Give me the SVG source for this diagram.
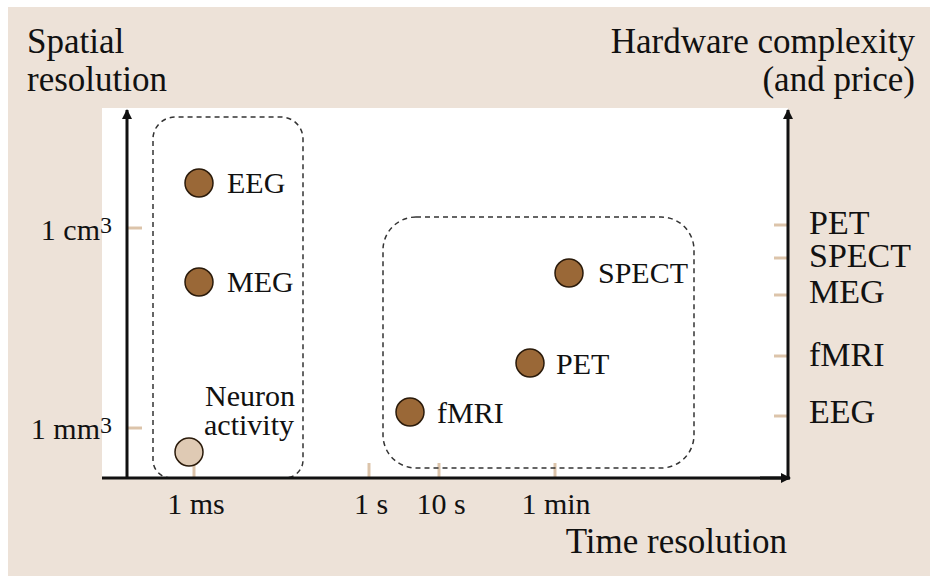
<svg xmlns="http://www.w3.org/2000/svg" width="930" height="576" viewBox="0 0 930 576">
<style>
text{font-family:"Liberation Serif","Times New Roman",serif;fill:#111}
.t{font-size:35px}
.l{font-size:30px}
.r{font-size:34px}
.sup{font-size:24px}
.tick{stroke:#dcc4aa;stroke-width:3}
.box{fill:none;stroke:#333;stroke-width:1.5;stroke-dasharray:5 4}
.dot{fill:#9a6837;stroke:#2a1a0a;stroke-width:1.5}
.dotl{fill:#dfcab4;stroke:#2a1a0a;stroke-width:1.5}
.ax{stroke:#111;stroke-width:3;fill:none}
</style>
<defs>
<marker id="ah" markerWidth="10" markerHeight="10" refX="9" refY="5" orient="auto" markerUnits="userSpaceOnUse" viewBox="0 0 10 10"><path d="M0,0 L10,5 L0,10 z" fill="#111"/></marker>
</defs>
<rect x="0" y="0" width="930" height="576" fill="#ffffff"/>
<rect x="8" y="7" width="922" height="569" fill="#ede2d8"/>
<rect x="102" y="108" width="686" height="370" fill="#ffffff"/>

<g id="ticks">
<line class="tick" x1="128" y1="228" x2="142" y2="228"/>
<line class="tick" x1="128" y1="428" x2="142" y2="428"/>
<line class="tick" x1="194" y1="465" x2="194" y2="478"/>
<line class="tick" x1="369" y1="463" x2="369" y2="478"/>
<line class="tick" x1="439" y1="463" x2="439" y2="478"/>
<line class="tick" x1="555" y1="463" x2="555" y2="478"/>
<line class="tick" x1="774" y1="225" x2="788" y2="225"/>
<line class="tick" x1="774" y1="258" x2="788" y2="258"/>
<line class="tick" x1="774" y1="295" x2="788" y2="295"/>
<line class="tick" x1="774" y1="356" x2="788" y2="356"/>
<line class="tick" x1="774" y1="416" x2="788" y2="416"/>
</g>

<g id="groups">
<path class="box" d="M171,478 A18,18 0 0 1 153,460 V139 A22,22 0 0 1 175,117 H281 A22,22 0 0 1 303,139 V460 A18,18 0 0 1 285,478"/>
<rect class="box" x="383" y="217" width="311" height="251" rx="33" ry="33"/>
</g>

<g id="connectors">
<path class="ax" d="M127,478 V110" marker-end="url(#ah)"/>
<path class="ax" d="M102,478 H788"/>
<path class="ax" d="M760,478 H790" marker-end="url(#ah)"/>
<path class="ax" d="M788,479.5 V110" marker-end="url(#ah)"/>
</g>

<g id="axis-titles">
<text class="t" x="27" y="53">Spatial</text>
<text class="t" x="27" y="91">resolution</text>
<text class="t" x="915" y="53" text-anchor="end">Hardware complexity</text>
<text class="t" x="915" y="91" text-anchor="end">(and price)</text>
<text class="t" x="787" y="553" text-anchor="end">Time resolution</text>
</g>

<g id="y-labels">
<text class="l" x="100" y="240" text-anchor="end">1 cm</text>
<text class="sup" x="100" y="233">3</text>
<text class="l" x="100" y="439" text-anchor="end">1 mm</text>
<text class="sup" x="100" y="433">3</text>
</g>

<g id="x-labels">
<text class="l" x="196" y="514" text-anchor="middle">1 ms</text>
<text class="l" x="371" y="514" text-anchor="middle">1 s</text>
<text class="l" x="441" y="514" text-anchor="middle">10 s</text>
<text class="l" x="556" y="514" text-anchor="middle">1 min</text>
</g>

<g id="right-labels">
<text class="r" x="809" y="234">PET</text>
<text class="r" x="809" y="267">SPECT</text>
<text class="r" x="809" y="303">MEG</text>
<text class="r" x="809" y="366">fMRI</text>
<text class="r" x="809" y="423">EEG</text>
</g>

<g id="node-eeg"><circle class="dot" cx="199" cy="183" r="14"/><text class="l" x="227" y="193">EEG</text></g>
<g id="node-meg"><circle class="dot" cx="199" cy="282" r="14"/><text class="l" x="227" y="292">MEG</text></g>
<g id="node-neuron"><circle class="dotl" cx="189" cy="452" r="14"/><text class="l" x="205" y="406">Neuron</text><text class="l" x="204" y="435">activity</text></g>
<g id="node-fmri"><circle class="dot" cx="410" cy="412" r="14"/><text class="l" x="437" y="423">fMRI</text></g>
<g id="node-pet"><circle class="dot" cx="530" cy="363" r="14"/><text class="l" x="556" y="374">PET</text></g>
<g id="node-spect"><circle class="dot" cx="569" cy="273" r="14"/><text class="l" x="598" y="283">SPECT</text></g>
</svg>
